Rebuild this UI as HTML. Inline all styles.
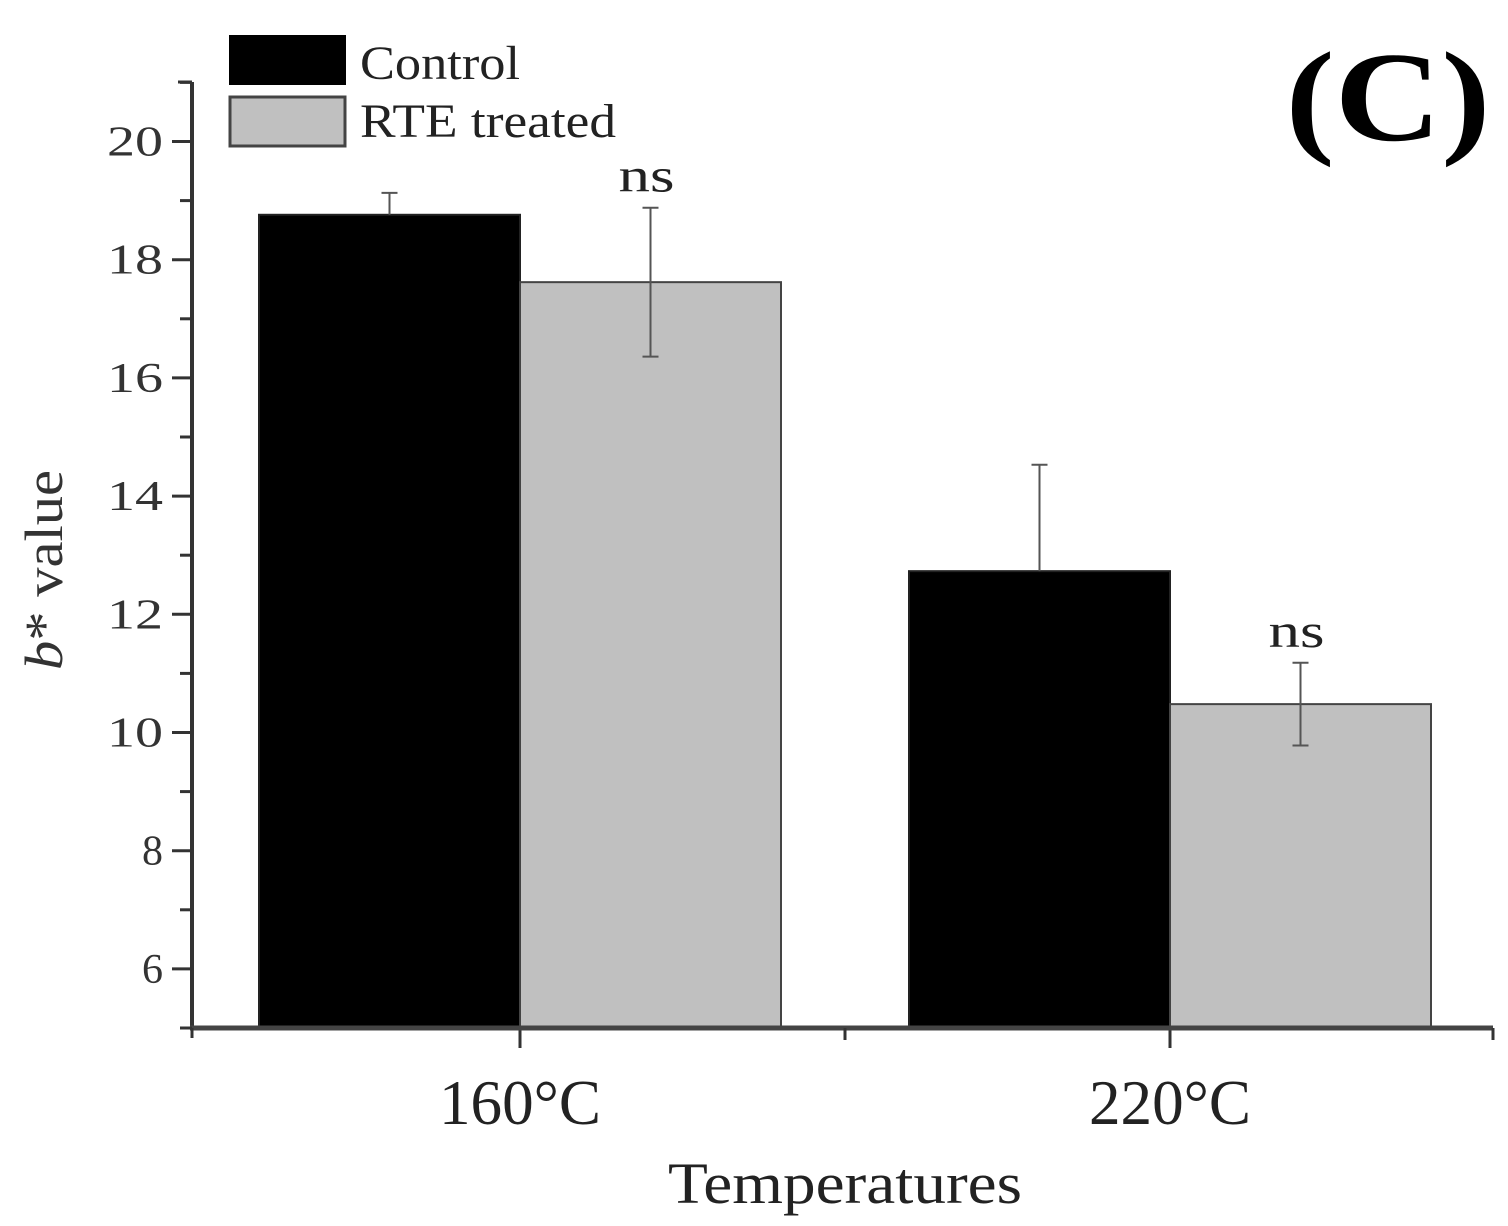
<!DOCTYPE html>
<html><head><meta charset="utf-8"><style>
html,body{margin:0;padding:0;background:#fff;}
svg{display:block;font-family:"Liberation Serif",serif;}
</style></head><body>
<svg id="chart" width="1508" height="1226" viewBox="0 0 1508 1226">
</svg>
<script>
const categories = ["160°C", "220°C"];
const controlValues = [18.76, 12.73];
const controlErrors = [0.37, 1.8];
const rteValues = [17.62, 10.48];
const rteErrors = [1.26, 0.7];
const rteLabels = ["ns", "ns"];
const yTicks = [6, 8, 10, 12, 14, 16, 18, 20];

const NS = "http://www.w3.org/2000/svg";
const svg = document.getElementById("chart");
const X0 = 192, X1 = 1493, Y0 = 1028, YMIN = 5, YMAX = 21, YTOP = 82;
const PX = 59.1;
function y(v){ return Y0 - (v - YMIN) * PX; }
const catCenters = [520, 1170];
function xc(i){ return catCenters[0] + i * (catCenters[1] - catCenters[0]); }
const BW = 261;
function mk(tag, attrs, parent){
  const e = document.createElementNS(NS, tag);
  for (const k in attrs) e.setAttribute(k, attrs[k]);
  (parent || svg).appendChild(e);
  return e;
}

categories.forEach((c, i) => {
  const cx = xc(i);
  let r = mk("rect", {x: cx - BW, y: y(controlValues[i]), width: BW, height: Y0 - y(controlValues[i]), fill: "#000", stroke: "#222", "stroke-width": 2});
  
  
  r = mk("rect", {x: cx, y: y(rteValues[i]), width: BW, height: Y0 - y(rteValues[i]), fill: "#c0c0c0", stroke: "#444", "stroke-width": 2});
  
  
  const ex1 = cx - BW / 2;
  let g = mk("path", {d: `M${ex1} ${y(controlValues[i])} V${y(controlValues[i] + controlErrors[i])} M${ex1 - 8} ${y(controlValues[i] + controlErrors[i])} h16`, stroke: "#555", "stroke-width": 2, fill: "none"});
  
  
  const ex2 = cx + BW / 2;
  const t = y(rteValues[i] + rteErrors[i]), b = y(rteValues[i] - rteErrors[i]);
  g = mk("path", {d: `M${ex2} ${b} V${t} M${ex2 - 8} ${t} h16 M${ex2 - 8} ${b} h16`, stroke: "#555", "stroke-width": 2, fill: "none"});
  
  
  const tx = mk("text", {x: ex2 - 4, y: t - 16, "font-size": 48, "text-anchor": "middle", fill: "#222", textLength: 56, lengthAdjust: "spacingAndGlyphs"});
  tx.textContent = rteLabels[i];
  
  
  const cl = mk("text", {x: cx, y: 1124, "font-size": 64, "text-anchor": "middle", fill: "#222", textLength: 162, lengthAdjust: "spacingAndGlyphs"});
  cl.textContent = c;
  
  
  const tk = mk("line", {x1: cx, x2: cx, y1: Y0, y2: Y0 + 20, stroke: "#333", "stroke-width": 3});
  
  
});

let ax = mk("line", {x1: X0, x2: X0, y1: YTOP, y2: Y0 + 2, stroke: "#333", "stroke-width": 4});


ax = mk("line", {x1: X0 - 2, x2: X1, y1: Y0, y2: Y0, stroke: "#444", "stroke-width": 5});


[[X1, 12], [845, 12], [X0, 10]].forEach(([xx, l]) => {
  const m = mk("line", {x1: xx, x2: xx, y1: Y0, y2: Y0 + l, stroke: "#333", "stroke-width": 3});
  
  
});
mk("line", {x1: X0 - 14, x2: X0, y1: YTOP, y2: YTOP, stroke: "#333", "stroke-width": 3});
for (let v = 5; v <= 21; v++) {
  const major = yTicks.includes(v);
  const l = mk("line", {x1: X0 - (major ? 20 : 12), x2: X0, y1: y(v), y2: y(v), stroke: "#333", "stroke-width": 3});
  
  
}
yTicks.forEach(v => {
  const t = mk("text", {x: 163, y: y(v) + 14, "font-size": 42, "text-anchor": "end", fill: "#333"});
  t.textContent = v;
  if (v >= 10) { t.setAttribute("textLength", 56); t.setAttribute("lengthAdjust", "spacingAndGlyphs"); }
  
  
});
</script>
<svg style="position:absolute;left:0;top:0" width="1508" height="1226">
<text x="62" y="570" font-size="54" text-anchor="middle" transform="rotate(-90 62 570)" fill="#333" font-family="Liberation Serif,serif" textLength="200" lengthAdjust="spacingAndGlyphs"><tspan font-style="italic">b</tspan>* value</text>
<text x="845" y="1203" font-size="58" text-anchor="middle" fill="#222" font-family="Liberation Serif,serif" textLength="354" lengthAdjust="spacingAndGlyphs">Temperatures</text>
<text x="1388" y="140" font-size="128" font-weight="bold" text-anchor="middle" fill="#000" font-family="Liberation Serif,serif" textLength="205" lengthAdjust="spacingAndGlyphs">(C)</text>
<g>
<rect x="229" y="35" width="117" height="50" fill="#000"/>
<text x="360" y="79" font-size="48" fill="#222" font-family="Liberation Serif,serif" textLength="160" lengthAdjust="spacingAndGlyphs">Control</text>
<rect x="230" y="97" width="115" height="49" fill="#c0c0c0" stroke="#444" stroke-width="3"/>
<text x="360" y="137" font-size="48" fill="#222" font-family="Liberation Serif,serif" textLength="256" lengthAdjust="spacingAndGlyphs">RTE treated</text>
</g>
</svg>
</body></html>
